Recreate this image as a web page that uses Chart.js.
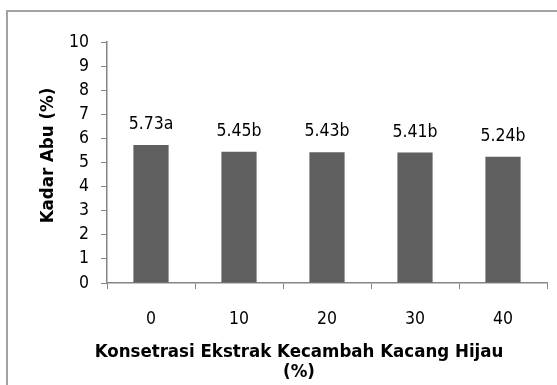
<!DOCTYPE html>
<html>
<head>
<meta charset="utf-8">
<script src="https://cdn.jsdelivr.net/npm/chart.js@4"></script>
<style>
  html, body { margin: 0; padding: 0; background: #fff; overflow: hidden; }
  #wrap { position: relative; width: 557px; height: 385px; }
  #frame { position: absolute; left: 6px; top: 10px; width: 600px; height: 420px;
           border: 2px solid #a2a2a2; box-sizing: border-box; pointer-events: none; }
  canvas { position: absolute; left: 0; top: 0; }
</style>
</head>
<body>
<div id="wrap">
  <canvas id="chart" width="557" height="385"></canvas>
  <div id="frame"></div>
</div>
<script>
const categories = ['0', '10', '20', '30', '40'];
const ashContent = [5.73, 5.45, 5.43, 5.41, 5.24];
const letters = ['a', 'b', 'b', 'b', 'b'];
const yTitle = 'Kadar Abu (%)';
const xTitle = ['Konsetrasi Ekstrak Kecambah Kacang Hijau', '(%)'];

const fontFamily = '"DejaVu Sans Condensed", "DejaVu Sans", sans-serif';

const labelsAndTitles = {
    id: 'labelsAndTitles',
    afterDatasetsDraw(chart) {
        const ctx = chart.ctx;
        const area = chart.chartArea;
        const meta = chart.getDatasetMeta(0);
        ctx.save();
        ctx.fillStyle = '#000';
        ctx.font = '17.5px ' + fontFamily;
        ctx.textAlign = 'center';
        ctx.textBaseline = 'alphabetic';
        meta.data.forEach((bar, i) => {
            ctx.fillText(ashContent[i].toFixed(2) + letters[i], bar.x, bar.y - 16);
        });

        ctx.font = 'bold 18.5px ' + fontFamily;
        ctx.textBaseline = 'middle';
        xTitle.forEach((line, i) => {
            ctx.fillText(line, 299, 352 + i * 20);
        });

        ctx.translate(48, (area.top + area.bottom) / 2 - 7);
        ctx.rotate(-Math.PI / 2);
        ctx.fillText(yTitle, 0, 0);
        ctx.restore();
    }
};

new Chart('chart', {
    type: 'bar',
    data: {
        labels: categories,
        datasets: [{
            data: ashContent,
            backgroundColor: '#5f5f5f',
            borderWidth: 0,
            categoryPercentage: 1,
            barPercentage: 0.4,
        }],
    },
    options: {
        responsive: false,
        animation: false,
        devicePixelRatio: 1,
        layout: { padding: { left: 0, right: 10, top: 42, bottom: 0 } },
        plugins: {
            legend: { display: false },
            tooltip: { enabled: false },
        },
        scales: {
            x: {
                afterFit: scale => { scale.height = 102; },
                grid: {
                    offset: true,
                    drawOnChartArea: false,
                    drawTicks: true,
                    tickLength: 6,
                    color: '#868686',
                },
                border: { color: '#868686', width: 1.5 },
                ticks: {
                    color: '#000',
                    font: { family: fontFamily, size: 17.5 },
                    padding: 20,
                },
            },
            y: {
                min: 0,
                max: 10,
                afterFit: scale => { scale.width = 107; },
                grid: {
                    drawOnChartArea: false,
                    drawTicks: true,
                    tickLength: 6,
                    color: '#868686',
                },
                border: { color: '#868686', width: 1.5 },
                ticks: {
                    stepSize: 1,
                    color: '#000',
                    font: { family: fontFamily, size: 17.5 },
                    padding: 12,
                },
            },
        },
    },
    plugins: [labelsAndTitles],
});
</script>
</body>
</html>
